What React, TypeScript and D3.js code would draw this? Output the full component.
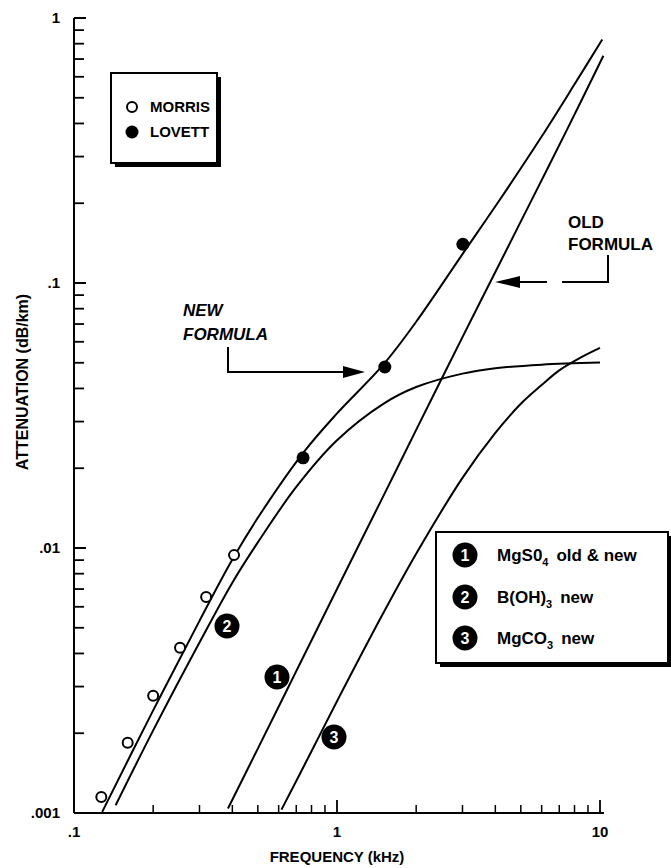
import React from "react";
import * as d3 from "d3";

// ---- data ----
const freqMorris = [0.127, 0.16, 0.2, 0.253, 0.318, 0.406];
const attMorris = [0.00115, 0.00184, 0.00277, 0.0042, 0.00653, 0.0094];
const freqLovett = [0.743, 1.52, 3.01];
const attLovett = [0.0219, 0.0482, 0.14];

// total attenuation, new formula (curve through the data)
const freqNew = [0.128, 0.2, 0.3, 0.4, 0.5, 0.75, 1.0, 1.5, 2.0, 3.0, 4.24, 6.0, 8.0, 10.2];
const attNew = [0.00101, 0.00244, 0.00531, 0.00904, 0.013, 0.0231, 0.0322, 0.0492, 0.0714, 0.1285, 0.212, 0.357, 0.562, 0.83];

// 1: MgSO4 (old & new)
const freqMgSO4 = [0.385, 0.5, 0.7, 1.0, 1.5, 2.0, 3.0, 4.0, 5.5, 7.5, 10.3];
const attMgSO4 = [0.00104, 0.00175, 0.00343, 0.007, 0.0157, 0.0279, 0.0625, 0.11, 0.206, 0.38, 0.72];

// 2: B(OH)3
const freqBOH3 = [0.144, 0.2, 0.3, 0.4, 0.5, 0.7, 1.0, 1.5, 2.0, 3.0, 4.0, 6.0, 10.0];
const attBOH3 = [0.00107, 0.00205, 0.0044, 0.0074, 0.0105, 0.017, 0.0255, 0.035, 0.0405, 0.0455, 0.0477, 0.0492, 0.0501];

// 3: MgCO3
const freqMgCO3 = [0.615, 0.8, 1.0, 1.5, 2.0, 3.0, 4.0, 5.0, 6.0, 7.0, 8.5, 10.0];
const attMgCO3 = [0.00103, 0.00171, 0.00264, 0.00568, 0.00951, 0.0184, 0.0272, 0.035, 0.0412, 0.0468, 0.0525, 0.0569];

const yMajor = [1, 0.1, 0.01, 0.001];
const yMajorLabels = ["1", ".1", ".01", ".001"];
const xMajor = [0.1, 1, 10];
const xMajorLabels = [".1", "1", "10"];

const FONT = "'Liberation Sans', Arial, Helvetica, sans-serif";

export default function App() {
  const W = 671, H = 868;
  const x = d3.scaleLog().domain([0.1, 10]).range([74, 600]);
  const y = d3.scaleLog().domain([0.001, 1]).range([813, 18]);

  const line = d3
    .line<[number, number]>()
    .x((d) => x(d[0]))
    .y((d) => y(d[1]))
    .curve(d3.curveCatmullRom.alpha(0.5));

  const mk = (fs: number[], as: number[]) => line(fs.map((f, i) => [f, as[i]] as [number, number])) || "";

  const yMinor: number[] = [];
  const xMinor: number[] = [];
  for (const dec of [0.001, 0.01, 0.1]) for (let k = 2; k <= 9; k++) yMinor.push(dec * k);
  for (const dec of [0.1, 1]) for (let k = 2; k <= 9; k++) xMinor.push(dec * k);

  const x0 = x(0.1), y0 = y(0.001);

  const numCircle = (cx: number, cy: number, n: string, key: string) => (
    <g key={key}>
      <circle cx={cx} cy={cy} r={12.5} fill="#000" />
      <text x={cx} y={cy + 5.5} textAnchor="middle" fill="#fff" fontSize={16} fontWeight="bold" fontFamily={FONT}>
        {n}
      </text>
    </g>
  );

  return (
    <svg width={W} height={H} style={{ position: "absolute", left: 0, top: 0, background: "#fff" }} fontFamily={FONT}>
      <rect x={0} y={0} width={W} height={H} fill="#fff" />
      <defs>
        <clipPath id="plot">
          <rect x={x0} y={0} width={W - x0} height={y0 - 0} />
        </clipPath>
      </defs>

      {/* axes */}
      <line x1={x0} y1={y(1)} x2={x0} y2={y0} stroke="#000" strokeWidth={2} />
      <line x1={x0} y1={y0} x2={x(10) + 4} y2={y0} stroke="#000" strokeWidth={2} />
      {yMajor.map((v, i) => (
        <g key={"ym" + i}>
          <line x1={x0} x2={x0 + 12} y1={y(v)} y2={y(v)} stroke="#000" strokeWidth={2} />
          <text x={60} y={y(v) + 5} textAnchor="end" fontSize={15} fontWeight="bold">
            {yMajorLabels[i]}
          </text>
        </g>
      ))}
      {yMinor.map((v, i) => (
        <line key={"yn" + i} x1={x0} x2={x0 + 10} y1={y(v)} y2={y(v)} stroke="#000" strokeWidth={1.8} />
      ))}
      {xMajor.map((v, i) => (
        <g key={"xm" + i}>
          <line x1={x(v)} x2={x(v)} y1={y0} y2={y0 - 13} stroke="#000" strokeWidth={1.8} />
          <text x={x(v)} y={y0 + 24} textAnchor="middle" fontSize={15} fontWeight="bold">
            {xMajorLabels[i]}
          </text>
        </g>
      ))}
      {xMinor.map((v, i) => (
        <line key={"xn" + i} x1={x(v)} x2={x(v)} y1={y0} y2={y0 - 8} stroke="#000" strokeWidth={1.5} />
      ))}

      <text x={x(1)} y={862} textAnchor="middle" fontSize={15} fontWeight="bold">
        FREQUENCY (kHz)
      </text>
      <text transform={`translate(28,382) rotate(-90)`} textAnchor="middle" fontSize={16} fontWeight="bold">
        ATTENUATION (dB/km)
      </text>

      {/* curves */}
      <g clipPath="url(#plot)" fill="none" stroke="#000" strokeWidth={2}>
        <path d={mk(freqNew, attNew)} />
        <path d={mk(freqMgSO4, attMgSO4)} />
        <path d={mk(freqBOH3, attBOH3)} />
        <path d={mk(freqMgCO3, attMgCO3)} />
      </g>

      {/* data points */}
      {freqMorris.map((f, i) => (
        <circle key={"m" + i} cx={x(f)} cy={y(attMorris[i])} r={5} fill="#fff" stroke="#000" strokeWidth={2} />
      ))}
      {freqLovett.map((f, i) => (
        <circle key={"l" + i} cx={x(f)} cy={y(attLovett[i])} r={6.5} fill="#000" />
      ))}

      {/* curve labels */}
      {numCircle(277, 677, "1", "c1")}
      {numCircle(227, 626, "2", "c2")}
      {numCircle(334, 737, "3", "c3")}

      {/* left legend */}
      <rect x={115} y={77} width={106} height={90} fill="#000" />
      <rect x={111} y={73} width={106} height={90} fill="#fff" stroke="#000" strokeWidth={2} />
      <circle cx={132} cy={107} r={5} fill="#fff" stroke="#000" strokeWidth={2} />
      <text x={150} y={112} fontSize={15} fontWeight="bold">MORRIS</text>
      <circle cx={132} cy={132} r={6.5} fill="#000" />
      <text x={150} y={137} fontSize={15} fontWeight="bold">LOVETT</text>

      {/* NEW FORMULA annotation */}
      <text x={183} y={316} fontSize={17} fontWeight="bold" fontStyle="italic">NEW</text>
      <text x={183} y={340} fontSize={17} fontWeight="bold" fontStyle="italic">FORMULA</text>
      <path d="M228,347 V372 H345" fill="none" stroke="#000" strokeWidth={2} />
      <polygon points="365,372 343,366 343,378" fill="#000" />

      {/* OLD FORMULA annotation */}
      <text x={568} y={228} fontSize={17} fontWeight="bold">OLD</text>
      <text x={568} y={250} fontSize={17} fontWeight="bold">FORMULA</text>
      <path d="M518,282 H547 M562,282 H608 V255" fill="none" stroke="#000" strokeWidth={2} />
      <polygon points="495,282 520,276 520,288" fill="#000" />

      {/* right legend */}
      <rect x={440} y={536} width={232} height={131} fill="#000" />
      <rect x={436} y={532} width={232} height={131} fill="#fff" stroke="#000" strokeWidth={2} />
      {numCircle(465, 555, "1", "l1")}
      <text x={497} y={561} fontSize={17} fontWeight="bold">
        MgS0<tspan fontSize={11} dy={5}>4</tspan>
        <tspan dy={-5} dx={8}>old &amp; new</tspan>
      </text>
      {numCircle(465, 597, "2", "l2")}
      <text x={497} y={603} fontSize={17} fontWeight="bold">
        B(OH)<tspan fontSize={11} dy={5}>3</tspan>
        <tspan dy={-5} dx={8}>new</tspan>
      </text>
      {numCircle(465, 638, "3", "l3")}
      <text x={497} y={644} fontSize={17} fontWeight="bold">
        MgCO<tspan fontSize={11} dy={5}>3</tspan>
        <tspan dy={-5} dx={8}>new</tspan>
      </text>
    </svg>
  );
}
